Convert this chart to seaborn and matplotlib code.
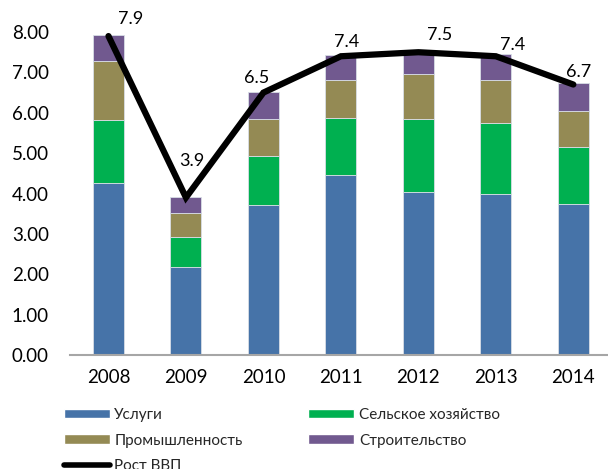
import numpy as np
import pandas as pd
import matplotlib
matplotlib.use("Agg")
import matplotlib.pyplot as plt
import seaborn as sns
from matplotlib.patches import Patch
from matplotlib.lines import Line2D

years = ["2008", "2009", "2010", "2011", "2012", "2013", "2014"]
services = [4.27, 2.17, 3.71, 4.45, 4.04, 4.00, 3.74]
agriculture = [1.55, 0.76, 1.21, 1.43, 1.80, 1.74, 1.42]
industry = [1.46, 0.58, 0.93, 0.92, 1.11, 1.07, 0.88]
construction = [0.65, 0.40, 0.67, 0.63, 0.55, 0.64, 0.70]
gdp = [7.9, 3.9, 6.5, 7.4, 7.5, 7.4, 6.7]

names = ["Услуги", "Сельское хозяйство", "Промышленность", "Строительство"]
colors = ["#4673A8", "#00B050", "#948A54", "#71598F"]

sns.set_theme(style="white")
plt.rcParams["font.family"] = ["Lato", "DejaVu Sans"]

fig = plt.figure(figsize=(6.08, 4.69), dpi=100)
ax = fig.add_axes([0.1147, 0.243, 0.892, 0.6887])

df = pd.DataFrame({"year": years, "s": services, "a": agriculture,
                   "i": industry, "c": construction, "gdp": gdp})
bottom = np.zeros(len(years))
for col, name, color in zip(["s", "a", "i", "c"], names, colors):
    sns.barplot(data=df, x="year", y=col, color=color, bottom=bottom,
                width=0.4, ax=ax, edgecolor="#D8DEE6", linewidth=0.6,
                saturation=1, err_kws={"linewidth": 0})
    bottom = bottom + df[col].values

xpos = np.arange(len(years))
sns.lineplot(x=xpos, y=df["gdp"], color="black", linewidth=4.5, ax=ax,
             solid_joinstyle="miter", zorder=5)

offsets = [(22, 17), (6, 37), (-7, 15), (6, 14), (21, 17), (17, 11), (5, 13)]
for x, v, off in zip(xpos, gdp, offsets):
    ax.annotate(f"{v:.1f}", (x, v), xytext=off, textcoords="offset pixels",
                ha="center", va="center", fontsize=13, color="black",
                annotation_clip=False, zorder=6)

ax.set_ylim(0, 8)
ax.set_xlim(-0.5, 6.5)
ax.set_yticks(np.arange(0, 9, 1))
ax.set_yticklabels([f"{t:.2f}" for t in np.arange(0, 9, 1)])
ax.set_xlabel("")
ax.set_ylabel("")
ax.tick_params(axis="both", labelsize=13.5, colors="black", length=0)
ax.tick_params(axis="y", pad=15)
ax.tick_params(axis="x", pad=10)
for s in ["top", "right", "left"]:
    ax.spines[s].set_visible(False)
ax.spines["bottom"].set_color("#A6A6A6")
ax.spines["bottom"].set_linewidth(1.5)

handles = [Patch(facecolor=colors[0], label=names[0]),
           Patch(facecolor=colors[2], label=names[2]),
           Line2D([], [], color="black", linewidth=4, solid_capstyle="round", label="Рост ВВП"),
           Patch(facecolor=colors[1], label=names[1]),
           Patch(facecolor=colors[3], label=names[3])]
fig.legend(handles=handles, loc="upper left", bbox_to_anchor=(0.095, 0.143),
           ncol=2, frameon=False, fontsize=11, handlelength=3.0,
           handleheight=0.55, handletextpad=0.3, columnspacing=4.3,
           labelspacing=0.75, borderaxespad=0)

fig.savefig("out.png", dpi=100)
